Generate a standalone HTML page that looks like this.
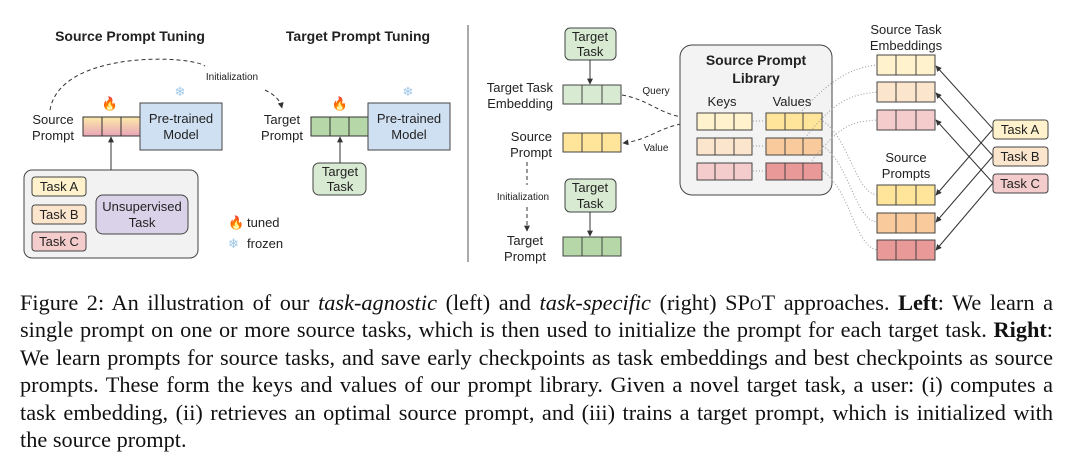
<!DOCTYPE html>
<html><head><meta charset="utf-8"><style>
body{margin:0;width:1080px;height:464px;background:#fff;overflow:hidden;position:relative}
svg{position:absolute;left:0;top:0}
svg text{font-family:"Liberation Sans",sans-serif;fill:#222}
.cap{position:absolute;left:20px;top:289px;width:1033px;font-family:"Liberation Serif",serif;font-size:22.3px;line-height:27.4px;color:#111}
.cap div{text-align:justify;text-align-last:justify;white-space:nowrap;overflow:visible}
.cap div.l{text-align-last:left}
.sc{font-variant:small-caps}
</style></head><body>
<svg width="1080" height="290" viewBox="0 0 1080 290">
<defs>
<linearGradient id="g1" x1="0" y1="0" x2="0" y2="1"><stop offset="0" stop-color="#fde9a8"/><stop offset="1" stop-color="#e8a5b8"/></linearGradient>
<marker id="ah" viewBox="0 0 10 10" refX="9" refY="5" markerWidth="6" markerHeight="6" orient="auto"><path d="M0,0L10,5L0,10z" fill="#333"/></marker>
</defs>
<text x="130" y="41" font-size="14" font-weight="bold" text-anchor="middle">Source Prompt Tuning</text>
<text x="358" y="41" font-size="14" font-weight="bold" text-anchor="middle">Target Prompt Tuning</text>
<line x1="468" y1="25" x2="468" y2="262" stroke="#555" stroke-width="1"/>
<path d="M50,110 C60,50 190,55 205,66" fill="none" stroke="#333" stroke-dasharray="4,3"/>
<path d="M265,90 C275,95 280,100 282,108" fill="none" stroke="#333" stroke-dasharray="4,3" marker-end="url(#ah)"/>
<text x="232" y="80" font-size="10" text-anchor="middle">Initialization</text>
<text x="53" y="124" font-size="13" text-anchor="middle">Source</text>
<text x="53" y="140" font-size="13" text-anchor="middle">Prompt</text>
<rect x="83" y="117" width="57" height="19" fill="url(#g1)" stroke="#333"/>
<line x1="102" y1="117" x2="102" y2="136" stroke="#333"/><line x1="121" y1="117" x2="121" y2="136" stroke="#333"/>
<text x="110" y="108" font-size="13" text-anchor="middle" style="fill:#e8502a">🔥</text>
<rect x="140" y="103" width="82" height="47" fill="#cfe0f3" stroke="#444"/>
<text x="181" y="123" font-size="13" text-anchor="middle">Pre-trained</text>
<text x="181" y="139" font-size="13" text-anchor="middle">Model</text>
<text x="180" y="96" font-size="13" text-anchor="middle" style="fill:#9cc6e8">❄</text>
<rect x="24" y="170" width="174" height="88" rx="8" fill="#f2f2f2" stroke="#444"/>
<line x1="111" y1="170" x2="111" y2="137" stroke="#333" marker-end="url(#ah)"/>
<rect x="32" y="177" width="54" height="19" rx="3" fill="#fff2cc" stroke="#444"/><text x="59" y="191" font-size="13" text-anchor="middle">Task A</text>
<rect x="32" y="205" width="54" height="19" rx="3" fill="#fce5cd" stroke="#444"/><text x="59" y="219" font-size="13" text-anchor="middle">Task B</text>
<rect x="32" y="232" width="54" height="19" rx="3" fill="#f4cccc" stroke="#444"/><text x="59" y="246" font-size="13" text-anchor="middle">Task C</text>
<rect x="96" y="195" width="92" height="39" rx="7" fill="#d9d2e9" stroke="#444"/>
<text x="142" y="211" font-size="13" text-anchor="middle">Unsupervised</text><text x="142" y="227" font-size="13" text-anchor="middle">Task</text>
<text x="228" y="227" font-size="13" style="fill:#e8502a">🔥</text><text x="247" y="227" font-size="13">tuned</text>
<text x="228" y="248" font-size="13" style="fill:#9cc6e8">❄</text><text x="247" y="248" font-size="13">frozen</text>
<text x="282" y="124" font-size="13" text-anchor="middle">Target</text>
<text x="282" y="140" font-size="13" text-anchor="middle">Prompt</text>
<rect x="311" y="117" width="57" height="19" fill="#b6d7a8" stroke="#333"/>
<line x1="330" y1="117" x2="330" y2="136" stroke="#333"/><line x1="349" y1="117" x2="349" y2="136" stroke="#333"/>
<text x="340" y="108" font-size="13" text-anchor="middle" style="fill:#e8502a">🔥</text>
<rect x="368" y="103" width="82" height="47" fill="#cfe0f3" stroke="#444"/>
<text x="409" y="123" font-size="13" text-anchor="middle">Pre-trained</text>
<text x="409" y="139" font-size="13" text-anchor="middle">Model</text>
<text x="408" y="96" font-size="13" text-anchor="middle" style="fill:#9cc6e8">❄</text>
<rect x="313" y="163" width="53" height="32" rx="6" fill="#d9ead3" stroke="#444"/>
<text x="340" y="176" font-size="13" text-anchor="middle">Target</text><text x="340" y="191" font-size="13" text-anchor="middle">Task</text>
<line x1="340" y1="163" x2="340" y2="137" stroke="#333" marker-end="url(#ah)"/>
<rect x="565" y="28" width="51" height="32" rx="5" fill="#d9ead3" stroke="#444"/>
<text x="590" y="41" font-size="13" text-anchor="middle">Target</text><text x="590" y="56" font-size="13" text-anchor="middle">Task</text>
<line x1="590" y1="60" x2="590" y2="84" stroke="#333" marker-end="url(#ah)"/>
<text x="553" y="92" font-size="13" text-anchor="end">Target Task</text><text x="553" y="108" font-size="13" text-anchor="end">Embedding</text>
<g stroke="#444">
<rect x="563" y="85" width="58" height="19" fill="#d9ead3"/><line x1="582" y1="85" x2="582" y2="104"/><line x1="602" y1="85" x2="602" y2="104"/>
<rect x="563" y="133" width="58" height="19" fill="#ffe599"/><line x1="582" y1="133" x2="582" y2="152"/><line x1="602" y1="133" x2="602" y2="152"/>
<rect x="563" y="237" width="58" height="19" fill="#b6d7a8"/><line x1="582" y1="237" x2="582" y2="256"/><line x1="602" y1="237" x2="602" y2="256"/>
</g>
<text x="552" y="141" font-size="13" text-anchor="end">Source</text><text x="552" y="157" font-size="13" text-anchor="end">Prompt</text>
<line x1="527" y1="162" x2="527" y2="185" stroke="#333" stroke-dasharray="4,3"/>
<text x="523" y="200" font-size="10" text-anchor="middle">Initialization</text>
<line x1="527" y1="207" x2="527" y2="231" stroke="#333" stroke-dasharray="4,3" marker-end="url(#ah)"/>
<rect x="565" y="179" width="51" height="33" rx="5" fill="#d9ead3" stroke="#444"/>
<text x="590" y="192" font-size="13" text-anchor="middle">Target</text><text x="590" y="208" font-size="13" text-anchor="middle">Task</text>
<line x1="590" y1="212" x2="590" y2="236" stroke="#333" marker-end="url(#ah)"/>
<text x="525" y="245" font-size="13" text-anchor="middle">Target</text><text x="525" y="261" font-size="13" text-anchor="middle">Prompt</text>
<path d="M622,95 C650,100 660,115 688,118" fill="none" stroke="#333" stroke-dasharray="4,3" marker-end="url(#ah)"/>
<path d="M688,123 C660,126 650,140 623,143" fill="none" stroke="#333" stroke-dasharray="4,3" marker-end="url(#ah)"/>
<text x="656" y="94" font-size="10" text-anchor="middle">Query</text>
<text x="656" y="151" font-size="10" text-anchor="middle">Value</text>
<rect x="680" y="45" width="152" height="150" rx="12" fill="#f3f3f3" stroke="#444"/>
<text x="756" y="65" font-size="14" font-weight="bold" text-anchor="middle">Source Prompt</text>
<text x="756" y="83" font-size="14" font-weight="bold" text-anchor="middle">Library</text>
<text x="722" y="106" font-size="13" text-anchor="middle">Keys</text>
<text x="792" y="106" font-size="13" text-anchor="middle">Values</text>
<g stroke="#444">
<rect x="697" y="113" width="55" height="17" fill="#fff2cc"/><line x1="715" y1="113" x2="715" y2="130"/><line x1="734" y1="113" x2="734" y2="130"/>
<rect x="697" y="138" width="55" height="17" fill="#fce5cd"/><line x1="715" y1="138" x2="715" y2="155"/><line x1="734" y1="138" x2="734" y2="155"/>
<rect x="697" y="163" width="55" height="17" fill="#f4cccc"/><line x1="715" y1="163" x2="715" y2="180"/><line x1="734" y1="163" x2="734" y2="180"/>
<rect x="766" y="113" width="56" height="17" fill="#ffe599"/><line x1="785" y1="113" x2="785" y2="130"/><line x1="803" y1="113" x2="803" y2="130"/>
<rect x="766" y="138" width="56" height="17" fill="#f9cb9c"/><line x1="785" y1="138" x2="785" y2="155"/><line x1="803" y1="138" x2="803" y2="155"/>
<rect x="766" y="163" width="56" height="17" fill="#ea9999"/><line x1="785" y1="163" x2="785" y2="180"/><line x1="803" y1="163" x2="803" y2="180"/>
</g>
<g stroke="#999" stroke-dasharray="1,2" fill="none">
<line x1="766" y1="121" x2="753" y2="121"/><line x1="766" y1="146" x2="753" y2="146"/><line x1="766" y1="171" x2="753" y2="171"/>
<path d="M800,113 C830,80 850,68 877,65"/>
<path d="M805,138 C835,100 850,95 877,92"/>
<path d="M810,163 C840,125 850,122 877,120"/>
<path d="M823,121 C850,140 855,192 877,195"/>
<path d="M823,146 C850,165 855,220 877,222"/>
<path d="M823,171 C850,190 855,246 877,250"/>
</g>
<text x="906" y="34" font-size="13" text-anchor="middle">Source Task</text>
<text x="906" y="50" font-size="13" text-anchor="middle">Embeddings</text>
<text x="906" y="162" font-size="13" text-anchor="middle">Source</text>
<text x="906" y="178" font-size="13" text-anchor="middle">Prompts</text>
<g stroke="#444">
<rect x="877" y="55" width="58" height="20" fill="#fff2cc"/><line x1="896" y1="55" x2="896" y2="75"/><line x1="916" y1="55" x2="916" y2="75"/>
<rect x="877" y="82" width="58" height="20" fill="#fce5cd"/><line x1="896" y1="82" x2="896" y2="102"/><line x1="916" y1="82" x2="916" y2="102"/>
<rect x="877" y="110" width="58" height="20" fill="#f4cccc"/><line x1="896" y1="110" x2="896" y2="130"/><line x1="916" y1="110" x2="916" y2="130"/>
<rect x="877" y="185" width="58" height="20" fill="#ffe599"/><line x1="896" y1="185" x2="896" y2="205"/><line x1="916" y1="185" x2="916" y2="205"/>
<rect x="877" y="213" width="58" height="20" fill="#f9cb9c"/><line x1="896" y1="213" x2="896" y2="233"/><line x1="916" y1="213" x2="916" y2="233"/>
<rect x="877" y="240" width="58" height="20" fill="#ea9999"/><line x1="896" y1="240" x2="896" y2="260"/><line x1="916" y1="240" x2="916" y2="260"/>
</g>
<g stroke="#333" marker-end="url(#ah)">
<line x1="993" y1="129" x2="936" y2="66"/><line x1="993" y1="129" x2="936" y2="195"/>
<line x1="993" y1="156" x2="936" y2="93"/><line x1="993" y1="156" x2="936" y2="222"/>
<line x1="993" y1="183" x2="936" y2="120"/><line x1="993" y1="183" x2="936" y2="250"/>
</g>
<rect x="993" y="120" width="55" height="19" rx="3" fill="#fff2cc" stroke="#444"/><text x="1020" y="134" font-size="13" text-anchor="middle">Task A</text>
<rect x="993" y="147" width="55" height="19" rx="3" fill="#fce5cd" stroke="#444"/><text x="1020" y="161" font-size="13" text-anchor="middle">Task B</text>
<rect x="993" y="174" width="55" height="19" rx="3" fill="#f4cccc" stroke="#444"/><text x="1020" y="188" font-size="13" text-anchor="middle">Task C</text>
</svg>
<div class="cap">
<div>Figure 2: An illustration of our <i>task-agnostic</i> (left) and <i>task-specific</i> (right) <span class="sc">SPoT</span> approaches. <b>Left</b>: We learn a</div>
<div>single prompt on one or more source tasks, which is then used to initialize the prompt for each target task. <b>Right</b>:</div>
<div>We learn prompts for source tasks, and save early checkpoints as task embeddings and best checkpoints as source</div>
<div>prompts. These form the keys and values of our prompt library. Given a novel target task, a user: (i) computes a</div>
<div>task embedding, (ii) retrieves an optimal source prompt, and (iii) trains a target prompt, which is initialized with</div>
<div class="l">the source prompt.</div>
</div>
</body></html>
